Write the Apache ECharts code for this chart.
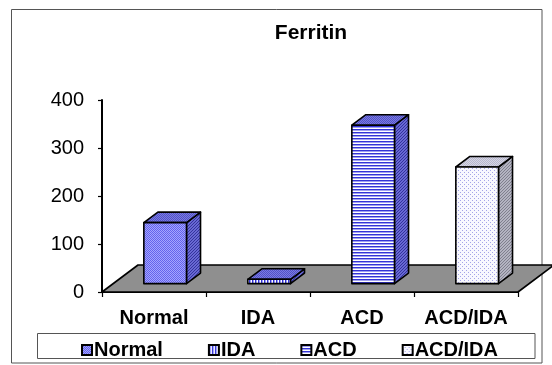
<!DOCTYPE html>
<html>
<head>
<meta charset="utf-8">
<script src="https://cdn.jsdelivr.net/npm/echarts@6/dist/echarts.min.js"></script>
<style>
  html, body { margin: 0; padding: 0; background: #fff; }
  #chart { width: 552px; height: 365px; }
</style>
</head>
<body>
<div id="chart"></div>
<script>
// Ferritin by group
const categories = ['Normal', 'IDA', 'ACD', 'ACD/IDA'];
const ferritin = [127, 9, 330, 243];
const yTicks = [0, 100, 200, 300, 400];

const FONT = '"Liberation Sans", Arial, sans-serif';
// oblique depth of the floor (px) and where bars sit inside it
const DEPTH = [36, -27];
const BAR_FRONT = 0.31;
const BAR_DEPTH = 0.39;
const BAR_WIDTH = 0.41;

function pattern(w, h, paint) {
  const c = document.createElement('canvas');
  c.width = w; c.height = h;
  const g = c.getContext('2d');
  paint(g);
  return { image: c, repeat: 'repeat' };
}
function dot(g, x, y, col) { g.fillStyle = col; g.fillRect(x, y, 1, 1); }
function fill(g, w, h, col) { g.fillStyle = col; g.fillRect(0, 0, w, h); }

const fills = {
  checkerBlue: pattern(2, 2, g => {
    fill(g, 2, 2, '#a4a4ff');
    dot(g, 0, 0, '#6363ec'); dot(g, 1, 1, '#6363ec');
  }),
  vStripeBlue: pattern(3, 1, g => {
    dot(g, 0, 0, '#3030d8'); dot(g, 1, 0, '#9c9cf6'); dot(g, 2, 0, '#ffffff');
  }),
  hStripeBlue: pattern(1, 3, g => {
    dot(g, 0, 0, '#3434d6'); dot(g, 0, 1, '#a0a0f2'); dot(g, 0, 2, '#ffffff');
  }),
  dotsWhite: pattern(4, 4, g => {
    fill(g, 4, 4, '#f8f8ff');
    dot(g, 0, 0, '#a4a4e8'); dot(g, 2, 2, '#a4a4e8');
  }),
  sideBlue: pattern(3, 3, g => {
    fill(g, 3, 3, '#6868d4');
    dot(g, 0, 2, '#34349c'); dot(g, 1, 1, '#34349c'); dot(g, 2, 0, '#34349c');
  }),
  topBlue: pattern(2, 2, g => {
    fill(g, 2, 2, '#7a7ae2');
    dot(g, 0, 0, '#5252c4'); dot(g, 1, 1, '#5252c4');
  }),
  sideGray: pattern(3, 3, g => {
    fill(g, 3, 3, '#b4b4c2');
    dot(g, 0, 2, '#80808e'); dot(g, 1, 1, '#80808e'); dot(g, 2, 0, '#80808e');
  }),
  topGray: pattern(2, 2, g => {
    fill(g, 2, 2, '#d6d6e6');
    dot(g, 0, 0, '#b8b8cc'); dot(g, 1, 1, '#b8b8cc');
  })
};

// front / side / top fills for each group
const faceFills = [
  { front: fills.checkerBlue, side: fills.sideBlue, top: fills.topBlue },
  { front: fills.vStripeBlue, side: fills.sideBlue, top: fills.topBlue },
  { front: fills.hStripeBlue, side: fills.sideBlue, top: fills.topBlue },
  { front: fills.dotsWhite, side: fills.sideGray, top: fills.topGray }
];

const edge = { stroke: '#000', lineWidth: 1.6, lineJoin: 'round' };

function poly(points, fillStyle) {
  return { type: 'polygon', shape: { points }, style: Object.assign({ fill: fillStyle }, edge) };
}

function renderBar(params, api) {
  const i = api.value(0);
  const v = api.value(1);
  const base = api.coord([i, 0]);
  const top = api.coord([i, v]);
  const w = api.size([1, 0])[0] * BAR_WIDTH;
  const x0 = base[0] - w / 2 + DEPTH[0] * BAR_FRONT;
  const x1 = x0 + w;
  const y0 = base[1] + DEPTH[1] * BAR_FRONT;
  const y1 = top[1] + DEPTH[1] * BAR_FRONT;
  const dx = DEPTH[0] * BAR_DEPTH, dy = DEPTH[1] * BAR_DEPTH;
  const f = faceFills[i];
  return {
    type: 'group',
    children: [
      poly([[x1, y0], [x1 + dx, y0 + dy], [x1 + dx, y1 + dy], [x1, y1]], f.side),
      poly([[x0, y1], [x1, y1], [x1 + dx, y1 + dy], [x0 + dx, y1 + dy]], f.top),
      poly([[x0, y0], [x1, y0], [x1, y1], [x0, y1]], f.front)
    ]
  };
}

function renderFloor(params) {
  const cs = params.coordSys;
  const yb = cs.y + cs.height;
  const xl = cs.x, xr = cs.x + cs.width;
  return {
    type: 'polygon',
    shape: { points: [[xl, yb], [xr, yb], [xr + DEPTH[0], yb + DEPTH[1]], [xl + DEPTH[0], yb + DEPTH[1]]] },
    style: { fill: '#8f8f8f', stroke: '#000', lineWidth: 1.6, lineJoin: 'round' }
  };
}

const keyStyle = i => ({ color: faceFills[i].front, borderColor: '#000', borderWidth: 2 });

const barSeries = categories.map((name, i) => ({
  name,
  type: 'custom',
  z: 3,
  renderItem: renderBar,
  itemStyle: keyStyle(i),
  data: [[i, ferritin[i]]]
}));

const chart = echarts.init(document.getElementById('chart'), null, { renderer: 'canvas' });
chart.setOption({
  animation: false,
  backgroundColor: '#fff',
  textStyle: { fontFamily: FONT },
  grid: { left: 102, right: 34, top: 100, bottom: 73 },
  xAxis: {
    type: 'category',
    data: categories,
    boundaryGap: true,
    axisLine: { lineStyle: { color: '#000', width: 2 } },
    axisTick: { show: true, length: 5, lineStyle: { color: '#000', width: 1.2 } },
    axisLabel: {
      color: '#000', fontSize: 20, fontWeight: 'bold', fontFamily: FONT,
      margin: 16, interval: 0, hideOverlap: false
    },
    splitLine: { show: false }
  },
  yAxis: {
    type: 'value',
    min: yTicks[0],
    max: yTicks[yTicks.length - 1],
    interval: yTicks[1] - yTicks[0],
    axisLine: { show: true, lineStyle: { color: '#000', width: 2 } },
    axisTick: { show: true, length: 4, lineStyle: { color: '#000', width: 1.2 } },
    axisLabel: { color: '#000', fontSize: 20, fontFamily: FONT, margin: 18 },
    splitLine: { show: false }
  },
  legend: {
    left: 76,
    top: 335,
    itemWidth: 10,
    itemHeight: 10,
    itemGap: 45,
    icon: 'rect',
    itemStyle: { borderColor: '#000', borderWidth: 2 },
    data: categories.map((name, i) => ({ name, icon: 'rect', itemStyle: keyStyle(i) })),
    textStyle: { color: '#000', fontSize: 20, fontWeight: 'bold', fontFamily: FONT, padding: [0, 0, 0, -3] },
    selectedMode: false
  },
  graphic: [
    {
      type: 'rect', z: -1, silent: true,
      shape: { x: 11.5, y: 9.5, width: 530.5, height: 353.5 },
      style: { fill: 'none', stroke: '#555', lineWidth: 1 }
    },
    {
      type: 'rect', silent: true,
      shape: { x: 37.5, y: 333.5, width: 497.5, height: 25 },
      style: { fill: 'none', stroke: '#555', lineWidth: 1 }
    },
    {
      type: 'text', silent: true,
      x: 311, y: 33,
      style: {
        text: 'Ferritin', fill: '#000', font: 'bold 21px ' + FONT,
        align: 'center', verticalAlign: 'middle'
      }
    }
  ],
  series: [
    { name: 'floor', type: 'custom', z: 1, renderItem: renderFloor, data: [[0, 0]], silent: true }
  ].concat(barSeries)
});
</script>
</body>
</html>
